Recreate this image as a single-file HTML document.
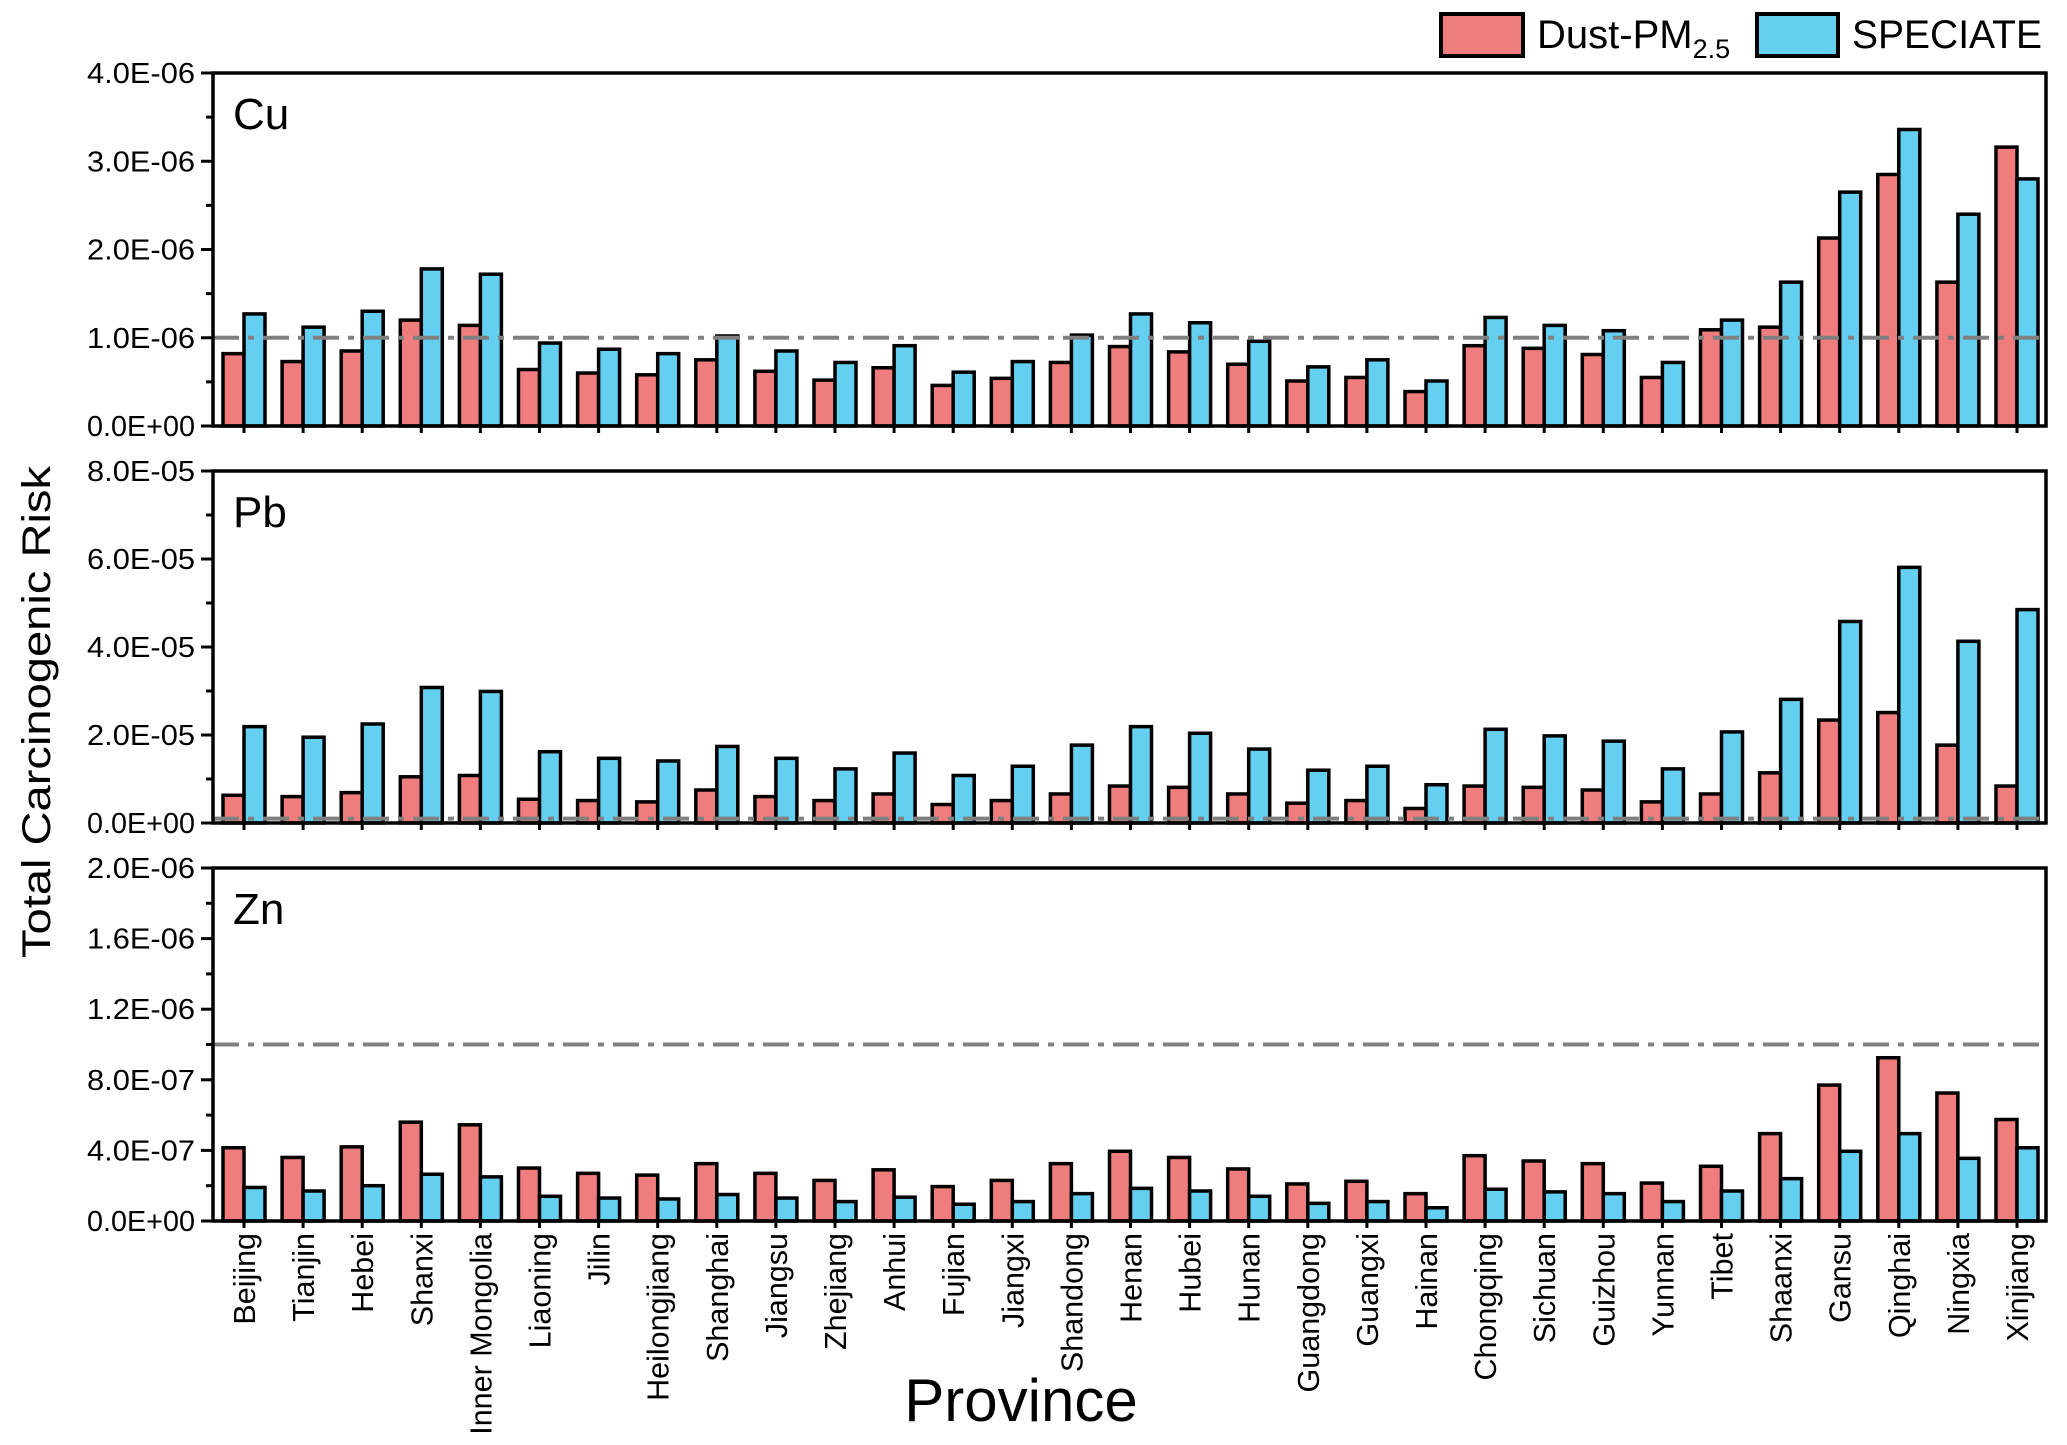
<!DOCTYPE html>
<html><head><meta charset="utf-8"><style>
html,body{margin:0;padding:0;background:#fff;}
svg{display:block;font-family:"Liberation Sans",Arial,sans-serif;}
</style></head>
<body>
<svg id="chart" width="2067" height="1445" viewBox="0 0 2067 1445" xmlns="http://www.w3.org/2000/svg">
  <g>
    <rect x="1441" y="14" width="82" height="42" fill="#f07d7d" stroke="#000" stroke-width="4"/>
    <text x="1537" y="48" font-size="40">Dust-PM<tspan font-size="27" dy="10">2.5</tspan></text>
    <rect x="1757" y="14" width="81" height="42" fill="#64cff0" stroke="#000" stroke-width="4"/>
    <text x="1852" y="48" font-size="40" textLength="190" lengthAdjust="spacingAndGlyphs">SPECIATE</text>
  </g>
  <text transform="translate(50,712) rotate(-90)" text-anchor="middle" font-size="40" textLength="492" lengthAdjust="spacingAndGlyphs">Total Carcinogenic Risk</text>
  <text x="1021" y="1421" text-anchor="middle" font-size="60">Province</text>
</svg>
<script>
const categories = ["Beijing","Tianjin","Hebei","Shanxi","Inner Mongolia","Liaoning","Jilin","Heilongjiang","Shanghai","Jiangsu","Zhejiang","Anhui","Fujian","Jiangxi","Shandong","Henan","Hubei","Hunan","Guangdong","Guangxi","Hainan","Chongqing","Sichuan","Guizhou","Yunnan","Tibet","Shaanxi","Gansu","Qinghai","Ningxia","Xinjiang"];
const cuDust = [0.82,0.73,0.85,1.2,1.14,0.64,0.6,0.58,0.75,0.62,0.52,0.66,0.46,0.54,0.72,0.9,0.84,0.7,0.51,0.55,0.39,0.91,0.88,0.81,0.55,1.09,1.12,2.13,2.85,1.63,3.16];
const cuSpec = [1.27,1.12,1.3,1.78,1.72,0.94,0.87,0.82,1.02,0.85,0.72,0.91,0.61,0.73,1.03,1.27,1.17,0.96,0.67,0.75,0.51,1.23,1.14,1.08,0.72,1.2,1.63,2.65,3.36,2.4,2.8];
const pbDust = [0.63,0.6,0.69,1.05,1.08,0.54,0.51,0.48,0.75,0.6,0.51,0.66,0.42,0.51,0.66,0.84,0.81,0.66,0.45,0.51,0.33,0.84,0.81,0.75,0.48,0.66,1.14,2.34,2.51,1.77,0.84];
const pbSpec = [2.19,1.95,2.25,3.08,2.99,1.62,1.47,1.41,1.74,1.47,1.23,1.59,1.08,1.29,1.77,2.19,2.04,1.68,1.2,1.29,0.87,2.13,1.98,1.86,1.23,2.07,2.81,4.58,5.81,4.13,4.85];
const znDust = [4.15,3.6,4.2,5.6,5.45,3.0,2.7,2.6,3.25,2.7,2.3,2.9,1.95,2.3,3.25,3.95,3.6,2.95,2.1,2.25,1.55,3.7,3.4,3.25,2.15,3.1,4.95,7.7,9.25,7.25,5.75];
const znSpec = [1.9,1.7,2.0,2.65,2.5,1.4,1.3,1.25,1.5,1.3,1.1,1.35,0.95,1.1,1.55,1.85,1.7,1.4,1.0,1.1,0.75,1.8,1.65,1.55,1.1,1.7,2.4,3.95,4.95,3.55,4.15];
const cuTicks = ["0.0E+00","1.0E-06","2.0E-06","3.0E-06","4.0E-06"];
const pbTicks = ["0.0E+00","2.0E-05","4.0E-05","6.0E-05","8.0E-05"];
const znTicks = ["0.0E+00","4.0E-07","8.0E-07","1.2E-06","1.6E-06","2.0E-06"];
// values in units: Cu 1e-6, Pb 1e-5, Zn 1e-7
const cuMax = 4, pbMax = 8, znMax = 20;
const cuThreshold = 1, pbThreshold = 0.1, znThreshold = 10;

const NS = "http://www.w3.org/2000/svg";
const svg = document.getElementById("chart");
const X0 = 213, X1 = 2046, C0 = 244, STEP = 59.1, BW = 21;
function xCenter(i){ return C0 + STEP*i; }
function mk(tag, attrs, parent){
  const e = document.createElementNS(NS, tag);
  for (const k in attrs) e.setAttribute(k, attrs[k]);
  (parent||svg).appendChild(e);
  return e;
}
function panel(key, label, top, bottom, max, ticks, dust, spec, thr, showX){
  const g = mk("g", {});
  
  
  const y = v => bottom - (v/max)*(bottom-top);
  const n = ticks.length - 1;
  for (let k=0;k<n;k++){
    const v = (k+0.5)*max/n;
    const t = mk("line",{x1:X0-7,x2:X0,y1:y(v),y2:y(v),stroke:"#000","stroke-width":3},g);
    
    
  }
  ticks.forEach((lab,k)=>{
    const v = k*max/n;
    const t = mk("line",{x1:X0-12,x2:X0,y1:y(v),y2:y(v),stroke:"#000","stroke-width":3},g);
    
    
    const tx = mk("text",{x:195,y:y(v)+10,"text-anchor":"end","font-size":29,textLength:108,lengthAdjust:"spacingAndGlyphs"},g);
    
    
    tx.textContent = lab;
  });
  categories.forEach((c,i)=>{
    const cx = xCenter(i);
    const r = mk("rect",{x:cx-BW,y:y(dust[i]),width:BW,height:bottom-y(dust[i]),fill:"#f07d7d",stroke:"#000","stroke-width":3.5},g);
    
    
    const b = mk("rect",{x:cx,y:y(spec[i]),width:BW,height:bottom-y(spec[i]),fill:"#64cff0",stroke:"#000","stroke-width":3.5},g);
    
    
    const t = mk("line",{x1:cx,x2:cx,y1:bottom,y2:bottom+7,stroke:"#000","stroke-width":3},g);
    
    
    if (showX){
      const tx = mk("text",{transform:`translate(${cx+11},${bottom+12}) rotate(-90)`,"text-anchor":"end","font-size":30.5},g);
      
      
      tx.textContent = c;
    }
  });
  const d = mk("line",{x1:X0,x2:X1,y1:y(thr),y2:y(thr),stroke:"#808080","stroke-width":4,"stroke-dasharray":"26 9 6 9"},g);
  
  
  const f = mk("rect",{x:X0,y:top,width:X1-X0,height:bottom-top,fill:"none",stroke:"#000","stroke-width":3.5},g);
  
  
  const l = mk("text",{x:233,y:top+56,"font-size":44},g);
  
  
  l.textContent = label;
}
panel("cu","Cu",73,426,cuMax,cuTicks,cuDust,cuSpec,cuThreshold,false);
panel("pb","Pb",471,823,pbMax,pbTicks,pbDust,pbSpec,pbThreshold,false);
panel("zn","Zn",868,1221,znMax,znTicks,znDust,znSpec,znThreshold,true);
</script>
</body></html>
